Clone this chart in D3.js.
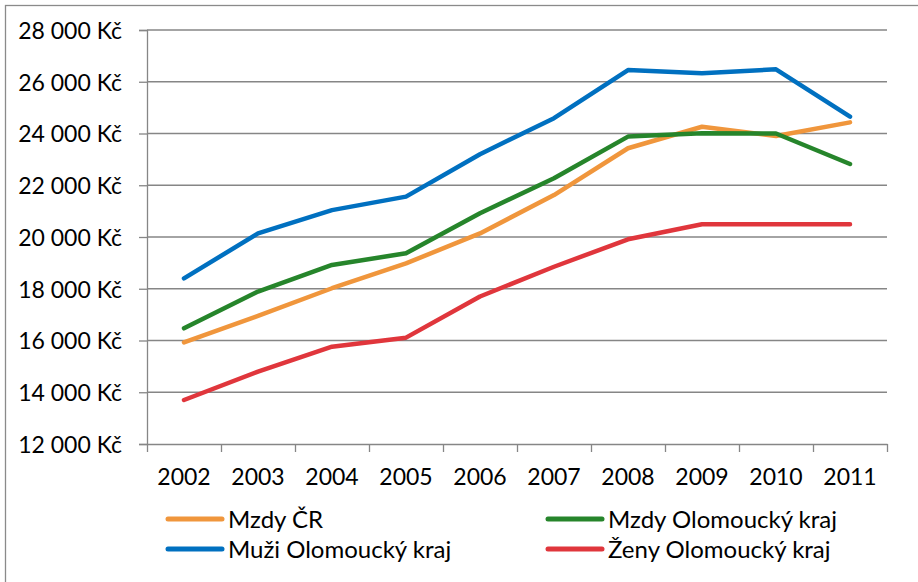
<!DOCTYPE html>
<html>
<head>
<meta charset="utf-8">
<script src="https://cdn.jsdelivr.net/npm/d3@7"></script>
<style>
body { margin: 0; background: #fff; }
svg text { font-family: Lato, "Open Sans", sans-serif; fill: #000; }
</style>
</head>
<body>
<svg id="chart"></svg>
<script>
// data
var years = ["2002","2003","2004","2005","2006","2007","2008","2009","2010","2011"]
var mzdyCR = [15930,16950,18020,18980,20140,21620,23430,24260,23900,24430]
var mzdyOlomouc = [16470,17890,18920,19370,20920,22270,23880,24010,24000,22820]
var muziOlomouc = [18400,20140,21040,21560,23200,24590,26450,26330,26480,24650]
var zenyOlomouc = [13700,14800,15760,16110,17700,18850,19910,20490,20490,20490]
var yTicks = [12000,14000,16000,18000,20000,22000,24000,26000,28000]

var series = [
    {name:"Mzdy ČR", values:mzdyCR, color:"#F0963C"},
    {name:"Mzdy Olomoucký kraj", values:mzdyOlomouc, color:"#26852B"},
    {name:"Muži Olomoucký kraj", values:muziOlomouc, color:"#0070C0"},
    {name:"Ženy Olomoucký kraj", values:zenyOlomouc, color:"#E0363C"}
]

var initGraph = function(target)
{
    var screen = {width:918, height:582};
    var margins = {top:30, left:147, right:31, bottom:138};
    var graph = {
        width:screen.width-margins.left-margins.right,
        height:screen.height-margins.top-margins.bottom
    };

    var svg = d3.select(target)
        .attr("width",screen.width)
        .attr("height",screen.height);

    //outer frame (only left and top visible)
    svg.append("rect")
        .attr("x",5.5).attr("y",5.5)
        .attr("width",950).attr("height",620)
        .attr("fill","none")
        .attr("stroke","#8a8a8a")
        .attr("stroke-width",1.3);

    var xScale = d3.scaleBand()
        .domain(years)
        .range([0,graph.width])
        .padding(0);

    var xTickScale = d3.scaleLinear()
        .domain([0,years.length])
        .range([0,graph.width]);

    var yScale = d3.scaleLinear()
        .domain([12000,28000])
        .range([graph.height,0]);

    var g = svg.append("g")
        .attr("transform","translate("+margins.left+","+margins.top+")");

    //gridlines
    g.append("g")
        .selectAll("line")
        .data(yTicks.slice(1))
        .enter()
        .append("line")
        .attr("x1",0)
        .attr("x2",graph.width)
        .attr("y1",function(d){ return yScale(d); })
        .attr("y2",function(d){ return yScale(d); })
        .attr("stroke","#868686")
        .attr("stroke-width",1.3);

    //y axis
    var fmt = d3.format(",");
    var yAxis = d3.axisLeft(yScale)
        .tickValues(yTicks)
        .tickSize(8)
        .tickPadding(17)
        .tickFormat(function(d){ return fmt(d).replace(/,/g,"\u00a0") + "\u00a0Kč"; });
    var ya = g.append("g").call(yAxis);
    ya.select(".domain").attr("stroke","#868686").attr("stroke-width",1.3);
    ya.selectAll(".tick line").attr("stroke","#868686").attr("stroke-width",1.3);
    ya.selectAll("text")
        .style("font-size","23px")
        .attr("dy","0.36em");

    //x axis tick marks between categories
    var xTicksAxis = d3.axisBottom(xTickScale)
        .tickValues(d3.range(years.length+1))
        .tickSize(8)
        .tickSizeOuter(0)
        .tickFormat("");
    var xt = g.append("g")
        .attr("transform","translate(0,"+graph.height+")")
        .call(xTicksAxis);
    xt.select(".domain").attr("stroke","#868686").attr("stroke-width",1.3);
    xt.selectAll(".tick line").attr("stroke","#868686").attr("stroke-width",1.3);

    //x labels
    var xAxis = d3.axisBottom(xScale)
        .tickSize(0)
        .tickPadding(25);
    var xa = g.append("g")
        .attr("transform","translate(0,"+graph.height+")")
        .call(xAxis);
    xa.select(".domain").remove();
    xa.selectAll("text")
        .style("font-size","23px")
        .attr("dy","0.71em");

    //lines
    var line = d3.line()
        .x(function(d,i){ return xScale(years[i]) + xScale.bandwidth()/2; })
        .y(function(d){ return yScale(d); });

    g.selectAll(".series")
        .data(series)
        .enter()
        .append("path")
        .attr("class","series")
        .attr("d",function(s){ return line(s.values); })
        .attr("fill","none")
        .attr("stroke",function(s){ return s.color; })
        .attr("stroke-width",4.5)
        .attr("stroke-linejoin","round")
        .attr("stroke-linecap","round");

    //legend
    var legendPos = [
        {x:168, y:519},
        {x:548, y:519},
        {x:168, y:549},
        {x:548, y:549}
    ];
    var legend = svg.append("g")
        .selectAll("g")
        .data(series)
        .enter()
        .append("g")
        .attr("transform",function(s,i){ return "translate("+legendPos[i].x+","+legendPos[i].y+")"; });
    legend.append("line")
        .attr("x1",0).attr("x2",54)
        .attr("y1",0).attr("y2",0)
        .attr("stroke",function(s){ return s.color; })
        .attr("stroke-width",5)
        .attr("stroke-linecap","round");
    legend.append("text")
        .attr("x",60)
        .attr("dy","0.36em")
        .style("font-size","24px")
        .text(function(s){ return s.name; });
}

initGraph("#chart");
</script>
</body>
</html>
